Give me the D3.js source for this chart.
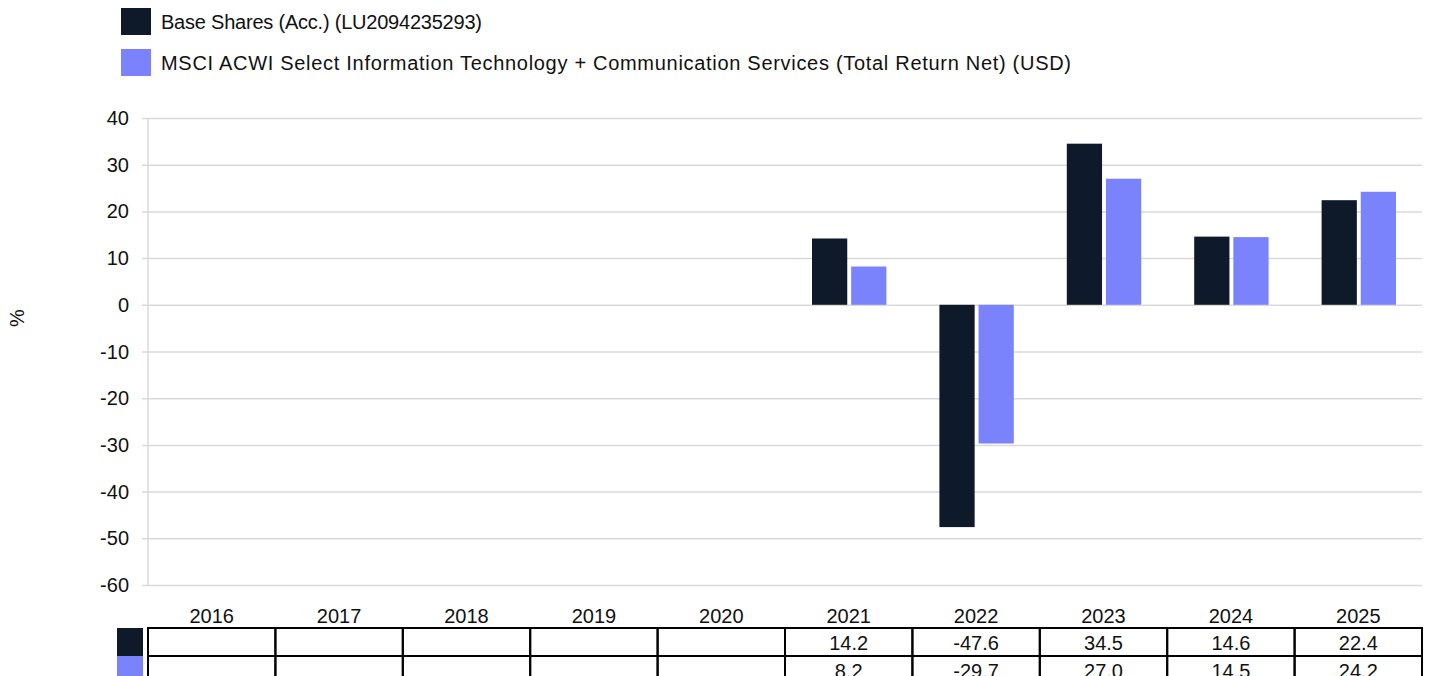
<!DOCTYPE html>
<html>
<head>
<meta charset="utf-8">
<script src="https://cdn.jsdelivr.net/npm/d3@7/dist/d3.min.js"></script>
<style>
  body { margin: 0; background: #fff; }
  text { font-family: "Liberation Sans", Arial, sans-serif; fill: #111; font-size: 20px; }
  .grid line { stroke: #d9d9d9; stroke-width: 1.5; }
  .grid path { display: none; }
</style>
</head>
<body>
<svg id="chart" width="1429" height="676"></svg>
<script>
var years = ["2016", "2017", "2018", "2019", "2020", "2021", "2022", "2023", "2024", "2025"];
var fundValues = [null, null, null, null, null, 14.2, -47.6, 34.5, 14.6, 22.4];
var indexValues = [null, null, null, null, null, 8.2, -29.7, 27.0, 14.5, 24.2];
var seriesNames = ["Base Shares (Acc.) (LU2094235293)",
  "MSCI ACWI Select Information Technology + Communication Services (Total Return Net) (USD)"];
var seriesColors = ["#0e1a2a", "#7b83fc"];
var yTicks = [40, 30, 20, 10, 0, -10, -20, -30, -40, -50, -60];

var series = [fundValues, indexValues];
var margin = { top: 118, left: 148, right: 7 };
var width = 1429 - margin.left - margin.right;
var plotH = 585 - margin.top;

var svg = d3.select("#chart");
var g = svg.append("g").attr("transform", "translate(" + margin.left + "," + margin.top + ")");

var x = d3.scaleBand().domain(years).range([0, width]).paddingInner(0).paddingOuter(0);
var x1 = d3.scaleBand().domain([0, 1]).range([27, x.bandwidth() - 26]).paddingInner(0.1);
var y = d3.scaleLinear().domain([-60, 40]).range([plotH, 0]);

// gridlines
g.append("g").attr("class", "grid")
  .call(d3.axisLeft(y).tickValues(yTicks).tickSize(-width).tickFormat(""))
  .selectAll("line").attr("x1", -6);
g.append("line").attr("x1", 0).attr("x2", 0).attr("y1", 0).attr("y2", plotH)
  .attr("stroke", "#d9d9d9").attr("stroke-width", 1.5);

// y labels
g.selectAll(".ylab").data(yTicks).enter().append("text")
  .attr("x", -19).attr("y", function(d) { return y(d) + 7; })
  .attr("text-anchor", "end").text(function(d) { return d; });

svg.append("text").attr("transform", "translate(24,318) rotate(-90)")
  .attr("text-anchor", "middle").text("%");

// bars
series.forEach(function(vals, si) {
  g.selectAll(".bar" + si).data(years.map(function(yr, i) { return { yr: yr, v: vals[i] }; })
      .filter(function(d) { return d.v !== null; }))
    .enter().append("rect")
    .attr("x", function(d) { return x(d.yr) + x1(si); })
    .attr("width", x1.bandwidth())
    .attr("y", function(d) { return y(Math.max(0, d.v)); })
    .attr("height", function(d) { return Math.abs(y(d.v) - y(0)); })
    .attr("fill", seriesColors[si]);
});

// legend
var legendWidths = [321, 910];
seriesNames.forEach(function(name, i) {
  svg.append("rect").attr("x", 121).attr("y", 8 + i * 41).attr("width", 30).attr("height", 27)
    .attr("fill", seriesColors[i]);
  svg.append("text").attr("x", 161).attr("y", 29 + i * 41)
    .attr("textLength", legendWidths[i]).attr("lengthAdjust", "spacing").text(name);
});

// table
var tTop = 628, rowH = 28;
g.selectAll(".yr").data(years).enter().append("text")
  .attr("x", function(d) { return x(d) + x.bandwidth() / 2; })
  .attr("y", 623 - margin.top)
  .attr("text-anchor", "middle").text(function(d) { return d; });

series.forEach(function(vals, si) {
  var ty = tTop + si * rowH - margin.top;
  g.append("rect").attr("x", -31).attr("y", ty).attr("width", 26).attr("height", rowH)
    .attr("fill", seriesColors[si]);
  g.selectAll(".cell" + si).data(years).enter().append("rect")
    .attr("x", function(d) { return x(d); }).attr("y", ty)
    .attr("width", x.bandwidth()).attr("height", rowH)
    .attr("fill", "none").attr("stroke", "#000").attr("stroke-width", 2);
  g.selectAll(".val" + si).data(years.map(function(yr, i) { return { yr: yr, v: vals[i] }; }))
    .enter().append("text")
    .attr("x", function(d) { return x(d.yr) + x.bandwidth() / 2; })
    .attr("y", ty + 22)
    .attr("text-anchor", "middle")
    .text(function(d) { return d.v === null ? "" : d.v.toFixed(1); });
});
</script>
</body>
</html>
